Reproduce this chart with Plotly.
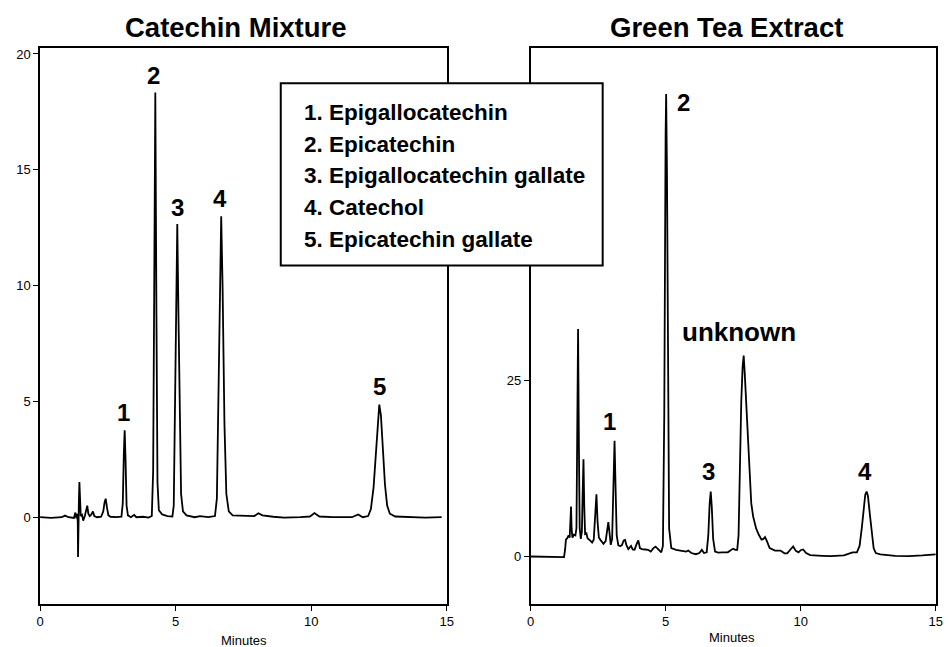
import plotly.graph_objects as go

W, H = 949, 647

# ---- data ----
mix_t = [0.00, 0.40, 0.80, 0.92, 1.05, 1.25, 1.30, 1.34, 1.37, 1.39, 1.40, 1.41, 1.43, 1.45, 1.47,
         1.50, 1.55, 1.59, 1.65, 1.70, 1.74, 1.78, 1.83, 1.88, 1.95, 2.00, 2.10, 2.25, 2.33, 2.38,
         2.42, 2.47, 2.52, 2.60, 2.80, 3.00, 3.05, 3.09, 3.12, 3.15, 3.19, 3.24, 3.35, 3.47, 3.55,
         3.80, 4.00, 4.12, 4.17, 4.21, 4.25, 4.29, 4.33, 4.38, 4.50, 4.70, 4.88, 4.93, 4.98, 5.02,
         5.06, 5.10, 5.15, 5.20, 5.27, 5.40, 5.70, 5.90, 6.20, 6.45, 6.52, 6.58, 6.63, 6.68, 6.73,
         6.80, 6.87, 6.96, 7.10, 7.50, 7.90, 8.05, 8.20, 8.60, 9.00, 9.60, 9.95, 10.12, 10.30, 10.80,
         11.50, 11.73, 11.90, 12.10, 12.20, 12.30, 12.38, 12.45, 12.51, 12.57, 12.64, 12.72, 12.80,
         12.90, 13.10, 13.60, 14.20, 14.81]
mix_y = [0.00, -0.03, 0.00, 0.07, 0.00, -0.03, 0.20, -0.05, 0.15, -0.20, -1.72, -0.10, 0.60, 1.52, 0.30,
         0.05, 0.10, -0.15, 0.05, 0.35, 0.50, 0.15, 0.05, 0.10, 0.25, 0.05, 0.00, 0.02, 0.25, 0.65,
         0.80, 0.40, 0.08, 0.02, 0.00, 0.02, 0.60, 2.80, 3.75, 2.60, 0.50, 0.08, 0.00, 0.10, 0.00,
         0.02, -0.02, 0.05, 2.00, 10.00, 18.33, 9.00, 1.50, 0.30, 0.12, 0.05, 0.03, 0.50, 5.00, 10.50,
         12.66, 9.00, 3.50, 1.00, 0.25, 0.08, 0.00, 0.05, 0.00, 0.05, 0.80, 5.50, 11.00, 12.99, 10.00,
         4.00, 1.00, 0.25, 0.08, 0.05, 0.05, 0.17, 0.08, 0.02, -0.02, 0.00, 0.03, 0.18, 0.03, 0.00,
         0.00, 0.12, 0.00, 0.05, 0.35, 1.30, 2.80, 4.20, 4.86, 4.40, 3.00, 1.40, 0.50,
         0.15, 0.03, 0.00, -0.02, 0.00]

tea_t = [0.00, 0.60, 1.24, 1.28, 1.31, 1.36, 1.41, 1.45, 1.48, 1.50, 1.52, 1.55, 1.60, 1.66, 1.70,
         1.73, 1.76, 1.79, 1.82, 1.86, 1.90, 1.93, 1.96, 1.99, 2.02, 2.07, 2.11, 2.20, 2.28, 2.34,
         2.38, 2.44, 2.48, 2.53, 2.60, 2.70, 2.78, 2.84, 2.88, 2.92, 2.97, 3.02, 3.06, 3.11, 3.15,
         3.19, 3.25, 3.32, 3.38, 3.45, 3.50, 3.55, 3.62, 3.68, 3.72, 3.78, 3.85, 3.93, 3.99, 4.05,
         4.12, 4.25, 4.35, 4.45, 4.55, 4.63, 4.72, 4.84, 4.90, 4.95, 5.00, 5.02, 5.05, 5.09, 5.13,
         5.21, 5.39, 5.60, 5.76, 5.84, 5.95, 6.12, 6.25, 6.34, 6.42, 6.52, 6.58, 6.63, 6.67, 6.71,
         6.76, 6.83, 6.95, 7.10, 7.30, 7.45, 7.50, 7.58, 7.65, 7.70, 7.75, 7.80, 7.85, 7.89, 7.93,
         8.01, 8.06, 8.11, 8.17, 8.24, 8.35, 8.45, 8.55, 8.62, 8.68, 8.75, 8.85, 9.05, 9.25, 9.40,
         9.50, 9.62, 9.72, 9.82, 9.92, 10.00, 10.09, 10.20, 10.35, 10.80, 11.12, 11.60, 11.80, 11.92,
         12.08, 12.18, 12.26, 12.33, 12.39, 12.44, 12.49, 12.56, 12.63, 12.70, 12.78, 12.95, 13.50,
         14.00, 14.50, 15.00]
tea_y = [0.0, -0.1, -0.1, 1.0, 2.4, 2.6, 3.0, 2.7, 4.5, 7.1, 4.0, 2.7, 3.1, 3.0, 4.0,
         18.0, 32.4, 16.0, 4.0, 2.5, 3.5, 9.0, 13.86, 7.0, 3.2, 3.3, 2.6, 2.3, 2.0, 2.4,
         5.0, 8.87, 5.0, 2.7, 2.3, 1.8, 2.2, 4.0, 4.89, 3.5, 1.66, 2.5, 9.0, 16.46, 9.5,
         3.0, 1.6, 1.5, 1.6, 2.3, 2.37, 1.6, 1.05, 1.4, 1.5, 1.0, 0.95, 1.8, 2.28, 1.2,
         1.05, 1.0, 0.95, 0.7, 1.2, 1.4, 1.0, 0.6, 1.5, 20.0, 60.0, 65.84, 55.0, 18.0, 4.0,
         1.2, 0.95, 0.8, 0.7, 0.85, 0.5, 0.33, 0.5, 0.95, 0.5, 0.6, 3.0, 7.5, 9.25, 7.0,
         2.5, 0.7, 0.55, 0.6, 0.6, 1.0, 1.1, 0.95, 0.95, 3.0, 14.0, 22.0, 27.0, 28.6, 26.0,
         19.5, 14.5, 10.5, 7.6, 5.7, 4.0, 3.1, 2.4, 2.5, 2.75, 2.2, 1.2, 0.85, 0.85, 0.45,
         0.45, 1.0, 1.42, 0.8, 0.6, 0.9, 1.0, 0.5, 0.2, 0.1, 0.05, 0.15, 0.4, 0.6,
         0.6, 1.5, 4.0, 7.0, 8.8, 9.25, 8.6, 6.0, 3.2, 1.2, 0.5, 0.3, 0.1,
         0.05, 0.15, 0.3]

mix_labels = ["1", "2", "3", "4", "5"]
mix_label_x = [3.08, 4.17, 5.05, 6.65, 12.52]
mix_label_y = [4.53, 19.05, 13.36, 13.75, 5.65]

tea_labels = ["1", "2", "unknown", "3", "4"]
tea_label_x = [2.94, 5.65, 7.73, 6.60, 12.38]
tea_label_y = [19.2, 64.6, 32.0, 12.05, 12.05]

legend_lines = ["1. Epigallocatechin", "2. Epicatechin", "3. Epigallocatechin gallate",
                "4. Catechol", "5. Epicatechin gallate"]

titles = ["Catechin Mixture", "Green Tea Extract"]
x_ticks = [0, 5, 10, 15]
mix_y_ticks = [0, 5, 10, 15, 20]
tea_y_ticks = [0, 25, 50]

# ---- figure ----
def px(x):
    return x / W

def py(y):
    return 1 - y / H

BOLD = "Liberation Sans, Arial, sans-serif"
ARIAL = "Liberation Sans, Arial, sans-serif"

fig = go.Figure()
fig.add_trace(go.Scatter(x=mix_t, y=mix_y, mode="lines", xaxis="x", yaxis="y",
                         line=dict(color="black", width=1.8), showlegend=False, hoverinfo="skip"))
fig.add_trace(go.Scatter(x=tea_t, y=tea_y, mode="lines", xaxis="x2", yaxis="y2",
                         line=dict(color="black", width=1.8), showlegend=False, hoverinfo="skip"))

axis_common = dict(showline=True, linecolor="black", linewidth=1.5, mirror=True,
                   ticks="outside", ticklen=5, tickwidth=1, tickcolor="black",
                   showgrid=False, zeroline=False,
                   tickfont=dict(family=ARIAL, size=13, color="black"))

ydom = [py(604), py(47)]
fig.update_layout(
    width=W, height=H,
    margin=dict(l=0, r=0, t=0, b=0),
    paper_bgcolor="white", plot_bgcolor="white",
    xaxis=dict(domain=[px(36.5), px(448)], range=[0, 15], tickvals=x_ticks, **axis_common),
    yaxis=dict(domain=ydom, range=[-3.75, 20.26], tickvals=mix_y_ticks, **axis_common),
    xaxis2=dict(domain=[px(532.7), px(942.7)], range=[0, 15], tickvals=x_ticks,
                anchor="y2", **axis_common),
    yaxis2=dict(domain=ydom, range=[-6.77, 72.4], tickvals=tea_y_ticks,
                anchor="x2", **axis_common),
)

ann = []
# panel titles
for t, cx in zip(titles, [235, 731]):
    ann.append(dict(text=f"<b>{t}</b>", x=px(cx), y=py(27), xref="paper", yref="paper",
                    xanchor="center", yanchor="middle", showarrow=False,
                    font=dict(family=BOLD, size=27.5, color="black")))
# axis titles
for cx, cy in [(243, 640), (737, 637)]:
    ann.append(dict(text="Minutes", x=px(cx), y=py(cy), xref="paper", yref="paper",
                    xanchor="center", yanchor="middle", showarrow=False,
                    font=dict(family=ARIAL, size=13, color="black")))
# peak labels
for lab, lx, ly in zip(mix_labels, mix_label_x, mix_label_y):
    ann.append(dict(text=f"<b>{lab}</b>", x=lx, y=ly, xref="x", yref="y",
                    xanchor="center", yanchor="middle", showarrow=False,
                    font=dict(family=ARIAL, size=24, color="black")))
for lab, lx, ly in zip(tea_labels, tea_label_x, tea_label_y):
    ann.append(dict(text=f"<b>{lab}</b>", x=lx, y=ly, xref="x2", yref="y2",
                    xanchor="center", yanchor="middle", showarrow=False,
                    font=dict(family=ARIAL, size=26 if lab == "unknown" else 24, color="black")))
# legend box text
for i, line in enumerate(legend_lines):
    ann.append(dict(text=f"<b>{line}</b>", x=px(301.7), y=py(111.7 + 31.7 * i),
                    xref="paper", yref="paper", xanchor="left", yanchor="middle",
                    showarrow=False, font=dict(family=BOLD, size=22.5, color="black")))

fig.update_layout(annotations=ann)
fig.add_shape(type="rect", xref="paper", yref="paper",
              x0=px(280), x1=px(605.7), y0=py(265), y1=py(82.3),
              fillcolor="white", line=dict(color="black", width=2), layer="above")

fig.write_html("out.html",
               config={"displayModeBar": False},
               post_script="document.body.style.margin='0px';document.body.style.overflow='hidden';")
